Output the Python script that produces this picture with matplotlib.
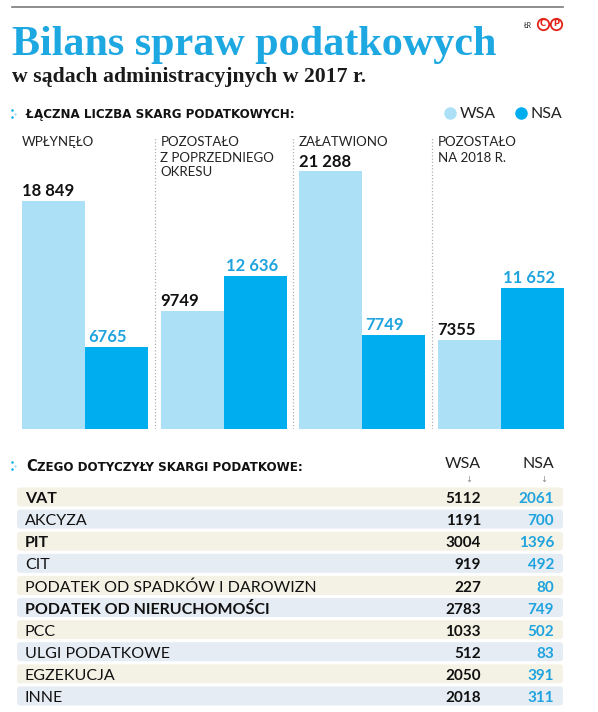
import matplotlib
matplotlib.use('Agg')
import matplotlib.pyplot as plt
from matplotlib.lines import Line2D
from matplotlib.patches import FancyBboxPatch
import numpy as np

# Data
categories = ['WPŁYNĘŁO', 'POZOSTAŁO\nZ POPRZEDNIEGO\nOKRESU', 'ZAŁATWIONO',
              'POZOSTAŁO\nNA 2018 R.']
wsa_totals = [18849, 9749, 21288, 7355]
nsa_totals = [6765, 12636, 7749, 11652]

topics = ['VAT', 'AKCYZA', 'PIT', 'CIT', 'PODATEK OD SPADKÓW I DAROWIZN',
          'PODATEK OD NIERUCHOMOŚCI', 'PCC', 'ULGI PODATKOWE', 'EGZEKUCJA',
          'INNE']
topics_bold = ['VAT', 'PIT', 'PODATEK OD NIERUCHOMOŚCI']
wsa_topics = [5112, 1191, 3004, 919, 227, 2783, 1033, 512, 2050, 2018]
nsa_topics = [2061, 700, 1396, 492, 80, 749, 502, 83, 391, 311]

W, H = 598, 712
LIGHT = '#abe0f7'
DARK = '#00adee'
BLUE_TXT = '#1fa3de'
TITLE_BLUE = '#1ea8e2'
BEIGE = '#f4f2e5'
GREYBLUE = '#e5ecf3'
RED = '#e2231a'


def fx(x):
    return x / W


def fy(y):
    return 1 - y / H


def fmt(v):
    if v >= 10000:
        return '{:,}'.format(v).replace(',', ' ')
    return str(v)


fig = plt.figure(figsize=(W / 100, H / 100), dpi=100)
fig.patch.set_facecolor('white')

sans = ['Lato', 'DejaVu Sans']
head = ['DejaVu Sans']

# top rule
fig.add_artist(Line2D([fx(12), fx(563)], [fy(7), fy(7)], color='#7a7a7a',
                      lw=1.2))

# title block
fig.text(fx(12), fy(55), 'Bilans spraw podatkowych', family='Liberation Serif',
         weight='bold', size=30.3, color=TITLE_BLUE, va='baseline')
fig.text(fx(12), fy(82), 'w sądach administracyjnych w 2017 r.',
         family='Liberation Serif', weight='bold', size=15.7, color='#1a1a1a',
         va='baseline')
fig.text(fx(524), fy(28), 'ŁR', family=sans, size=5, color='#222',
         va='baseline')
# copyright marks
for cx, ch in [(543, 'C'), (556, 'P')]:
    fig.add_artist(Line2D([fx(cx)], [fy(24)], marker='o', markersize=8.2,
                          mfc='none', mec=RED, mew=1.3))
    fig.text(fx(cx), fy(24), ch, family='DejaVu Sans', size=6,
             color=RED, ha='center', va='center', weight='bold')


def dots(y0):
    for dx, dy, c in [(0, 0, DARK), (3, 3.5, LIGHT), (0, 7, DARK)]:
        fig.add_artist(Line2D([fx(12 + dx)], [fy(y0 + dy)], marker='o',
                              markersize=1.8, color=c, mec='none'))


def smallcaps_header(x, y, first, rest, s1, s2):
    t = fig.text(fx(x), fy(y), first, family=head, weight='bold', size=s1,
                 color='#111', va='baseline')
    fig.canvas.draw()
    bb = t.get_window_extent()
    fig.text(bb.x1 / W, fy(y), rest, family=head, weight='bold', size=s2,
             color='#111', va='baseline')


# section 1 header + legend
dots(110)
smallcaps_header(26, 118, 'Ł', 'ĄCZNA LICZBA SKARG PODATKOWYCH:', 8.6, 8.6)
fig.add_artist(Line2D([fx(450)], [fy(113)], marker='o', markersize=9,
                      color=LIGHT, mec='none'))
fig.text(fx(460), fy(118), 'WSA', family=sans, size=11.5,
         color='#222', va='baseline')
fig.add_artist(Line2D([fx(521)], [fy(113)], marker='o', markersize=9,
                      color=DARK, mec='none'))
fig.text(fx(530), fy(118), 'NSA', family=sans, size=11.5,
         color='#222', va='baseline')

# bar chart
pitch = 138.5
bw = 63 / pitch
ax = fig.add_axes([fx(22), fy(429), 541.5 / W, (429 - 133) / H])
ax.set_xlim(0, 3 + 2 * bw)
ax.set_ylim(0, 296 / 0.0121)
ax.axis('off')
x = np.arange(len(categories))
ax.bar(x, wsa_totals, width=bw, align='edge', color=LIGHT)
ax.bar(x + bw, nsa_totals, width=bw, align='edge', color=DARK)
for i in range(len(categories)):
    ax.annotate(fmt(wsa_totals[i]), (x[i], wsa_totals[i]), xytext=(0, 3.5),
                textcoords='offset points', ha='left', va='baseline',
                family=sans, weight='bold', size=12, color='#111')
    ax.annotate(fmt(nsa_totals[i]), (x[i] + bw, nsa_totals[i]),
                xytext=(2, 3.5), textcoords='offset points', ha='left',
                va='baseline', family=sans, weight='bold', size=12,
                color=BLUE_TXT)
    fig.text(fx(22 + i * pitch), fy(136.5), categories[i], family=sans,
             size=9.5, color='#222', va='top', linespacing=1.3)
for i in range(1, len(categories)):
    ax.axvline(i - 6 / pitch, ymin=0, ymax=(429 - 137) / 296,
               color='#b0b0b0', lw=0.9, ls=(0, (1, 1.6)))

# section 2 header
dots(462)
smallcaps_header(26, 471, 'C', 'ZEGO DOTYCZYŁY SKARGI PODATKOWE:', 10.5, 8.6)
for xr, lab, xa in [(481, 'WSA', 469), (554, 'NSA', 544)]:
    fig.text(fx(xr), fy(468), lab, family=sans, size=11.5,
             color='#222', ha='right', va='baseline')
    fig.text(fx(xa), fy(479), '↓', family='DejaVu Sans', size=6,
             color='#888', ha='center', va='center')

# table
pitch_t = 22.1
ax2 = fig.add_axes([0, fy(497 + 9.5 * pitch_t), 1, 10 * pitch_t / H])
ax2.set_xlim(0, W)
ax2.set_ylim(9.5, -0.5)
ax2.axis('off')
for i, name in enumerate(topics):
    band = FancyBboxPatch((17, i - 9.5 / pitch_t), 546, 19 / pitch_t,
                          boxstyle='round,pad=0,rounding_size=3',
                          mutation_aspect=1 / pitch_t,
                          color=BEIGE if i % 2 == 0 else GREYBLUE, lw=0)
    ax2.add_patch(band)
    bold = name in topics_bold
    ax2.text(25, i + 0.28, name, family=sans,
             weight='bold' if bold else 'normal', size=11.5, color='#111',
             va='baseline')
    ax2.text(481, i + 0.28, str(wsa_topics[i]), family=sans, weight='bold',
             size=11, color='#111', ha='right', va='baseline')
    ax2.text(554, i + 0.28, str(nsa_topics[i]), family=sans, weight='bold',
             size=11, color=BLUE_TXT, ha='right', va='baseline')

fig.savefig('out.png', dpi=100)
